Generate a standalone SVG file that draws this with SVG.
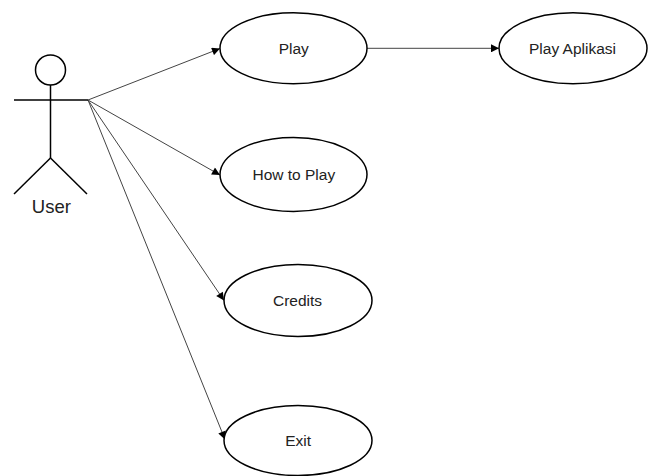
<svg xmlns="http://www.w3.org/2000/svg" width="653" height="476" viewBox="0 0 653 476">
<defs>
<marker id="arr" viewBox="0 0 10 10" refX="10" refY="5" markerWidth="10" markerHeight="8" markerUnits="userSpaceOnUse" orient="auto">
<path d="M0,0 L10,5 L0,10 Z" fill="#000"/>
</marker>
<style>
.uc{fill:#fff;stroke:#000;stroke-width:1.5}
.lbl{font-family:"Liberation Sans",Arial,sans-serif;font-size:15.5px;fill:#222;text-anchor:middle}
.act{fill:none;stroke:#000;stroke-width:1.5}
.con{stroke:#444;stroke-width:1;fill:none;marker-end:url(#arr)}
</style>
</defs>
<rect width="653" height="476" fill="#fff"/>
<g id="connectors">
<line class="con" x1="88" y1="100" x2="220" y2="48.5"/>
<line class="con" x1="88" y1="100" x2="220" y2="175"/>
<line class="con" x1="88" y1="100" x2="224" y2="300.5"/>
<line class="con" x1="88" y1="100" x2="225" y2="439.5"/>
<line class="con" x1="367" y1="48.3" x2="499" y2="48.3"/>
</g>
<g id="user">
<circle class="act" cx="50.5" cy="70" r="15"/>
<line class="act" x1="14" y1="100" x2="88" y2="100"/>
<line class="act" x1="50.5" y1="85" x2="50.5" y2="158"/>
<line class="act" x1="50.5" y1="158" x2="14" y2="194"/>
<line class="act" x1="50.5" y1="158" x2="87" y2="194"/>
<text x="51.3" y="213.3" style="font-family:'Liberation Sans',Arial,sans-serif;font-size:18.5px;fill:#222;text-anchor:middle">User</text>
</g>
<g id="play">
<ellipse class="uc" cx="293.5" cy="48.3" rx="73.5" ry="35.5"/>
<text class="lbl" x="293.8" y="53.8">Play</text>
</g>
<g id="play-aplikasi">
<ellipse class="uc" cx="573" cy="48.3" rx="74" ry="35.5"/>
<text class="lbl" x="572.5" y="53.8">Play Aplikasi</text>
</g>
<g id="how-to-play">
<ellipse class="uc" cx="293.5" cy="174.5" rx="73.5" ry="37"/>
<text class="lbl" x="293.8" y="180">How to Play</text>
</g>
<g id="credits">
<ellipse class="uc" cx="298" cy="300.5" rx="74" ry="36"/>
<text class="lbl" x="297.5" y="306">Credits</text>
</g>
<g id="exit">
<ellipse class="uc" cx="298" cy="440.5" rx="74" ry="35"/>
<text class="lbl" x="298.2" y="446">Exit</text>
</g>
</svg>
